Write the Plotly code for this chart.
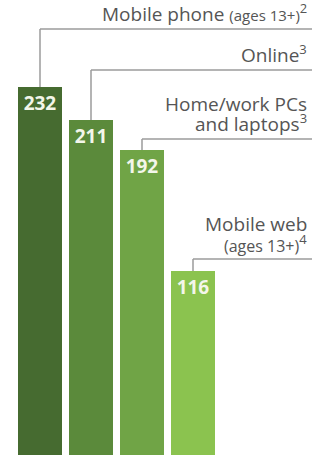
import plotly.graph_objects as go

# ---- data ----
categories = ["Mobile phone (ages 13+)", "Online", "Home/work PCs and laptops", "Mobile web (ages 13+)"]
values = [232, 211, 192, 116]
label_lines = [
    ["Mobile phone <span style='font-size:15px'>(ages 13+)</span><sup><span style='font-size:13px'>2</span></sup>"],
    ["Online<sup><span style='font-size:13px'>3</span></sup>"],
    ["Home/work PCs", "and laptops<sup><span style='font-size:13px'>3</span></sup>"],
    ["Mobile web", "<span style='font-size:16px'>(ages 13+)</span><sup><span style='font-size:13px'>4</span></sup>"],
]

# ---- layout / style ----
bar_colors = ["#466b30", "#5b8a3b", "#70a446", "#8bc34f"]
leader_levels = [268.6, 242.7, 199.2, 123.6]   # y-level of each leader line (data units)
W, H = 323, 457
px_per_unit = 1.586
zero_px = 455
x0_px, step_px = 40, 51
right_px = 312
line_gap_px = 20

xs = list(range(len(values)))

fig = go.Figure()
fig.add_trace(go.Bar(
    x=xs, y=values, width=0.88,
    marker=dict(color=bar_colors, line=dict(width=0)),
    text=[str(v) for v in values],
    textposition="inside", insidetextanchor="end",
    textfont=dict(family="Open Sans", size=19, color="#f3f6ea", weight="bold"),
    textangle=0, cliponaxis=False, hoverinfo="skip",
))

x_right = (right_px - x0_px) / step_px
for i, (v, lvl, lines) in enumerate(zip(values, leader_levels, label_lines)):
    fig.add_shape(type="line", xref="x", yref="y", x0=i, x1=i, y0=v, y1=lvl,
                  line=dict(color="#9b9b9b", width=1.5), layer="below")
    fig.add_shape(type="line", xref="x", yref="y", x0=i, x1=x_right, y0=lvl, y1=lvl,
                  line=dict(color="#9b9b9b", width=1.5), layer="below")
    n = len(lines)
    for k, txt in enumerate(lines):
        fig.add_annotation(x=x_right - 0.06, y=lvl, xref="x", yref="y",
                           xanchor="right", yanchor="bottom", align="right",
                           text=txt, showarrow=False,
                           yshift=0 + (n - 1 - k) * line_gap_px,
                           font=dict(family="Open Sans", size=19, color="#555555"))

fig.update_layout(
    width=W, height=H,
    margin=dict(l=0, r=0, t=0, b=0),
    paper_bgcolor="white", plot_bgcolor="white",
    showlegend=False,
    xaxis=dict(range=[-x0_px / step_px, (W - x0_px) / step_px], visible=False, fixedrange=True),
    yaxis=dict(range=[-(H - zero_px) / px_per_unit, zero_px / px_per_unit], visible=False, fixedrange=True),
    bargap=0,
)

fig.write_html("out.html", config={"displayModeBar": False})
